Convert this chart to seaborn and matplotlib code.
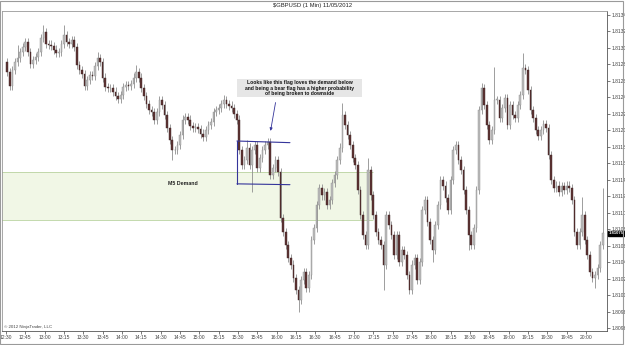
import matplotlib
matplotlib.use("Agg")
import numpy as np
import pandas as pd
import matplotlib.pyplot as plt
import seaborn as sns
from matplotlib.patches import Rectangle

# GBPUSD 1 min chart, 11/05/2012, read off the screenshot and grouped in 2 minute candles
# closes in pips above 1.8000, first candle ends at 12:31
first_open = 128.3
closes = [
    127.1, 125.4, 127.3, 128.3, 128.8, 129.5, 130.1, 130.7, 129.5, 128.1,
    128.5, 128.9, 129.5, 131.2, 131.9, 130.5, 130.4, 130.2, 129.8, 129.4,
    129.5, 130.5, 131.6, 130.7, 130.5, 131.0, 130.1, 127.9, 127.3, 126.8,
    125.4, 126.1, 126.7, 126.6, 127.8, 128.8, 128.3, 126.4, 125.3, 125.1,
    125.1, 124.7, 124.2, 123.8, 124.3, 125.3, 125.5, 125.4, 125.6, 126.4,
    127.1, 126.4, 125.1, 124.2, 123.2, 122.5, 122.2, 121.3, 122.2, 123.7,
    123.1, 121.9, 120.3, 118.8, 117.6, 117.6, 118.2, 119.4, 121.3, 121.6,
    121.3, 120.5, 120.3, 120.4, 120.2, 119.6, 119.2, 120.0, 120.6, 121.0,
    122.2, 122.5, 122.7, 123.2, 123.7, 123.2, 123.0, 122.7, 122.0, 121.3,
    117.6, 115.8, 116.4, 117.9, 115.8, 117.6, 118.2, 115.4, 116.6, 117.6,
    118.2, 118.6, 114.6, 115.4, 116.4, 114.9, 109.4, 107.7, 106.1, 104.5,
    103.7, 102.1, 100.6, 99.4, 101.8, 102.8, 100.9, 102.4, 106.7, 108.1,
    110.9, 113.0, 112.1, 112.5, 110.9, 111.5, 113.6, 114.6, 116.4, 117.9,
    121.9, 120.6, 119.4, 118.2, 116.6, 115.8, 112.8, 109.7, 107.3, 106.1,
    115.2, 112.1, 109.7, 107.7, 106.7, 106.1, 103.7, 109.7, 108.5, 107.3,
    104.9, 107.3, 104.0, 105.5, 104.9, 102.4, 100.6, 103.7, 104.5, 101.8,
    104.0, 110.3, 111.5, 108.9, 106.7, 105.5, 108.5, 110.9, 114.0, 113.3,
    111.8, 110.3, 114.0, 117.6, 118.2, 116.4, 115.2, 112.8, 110.3, 107.3,
    106.1, 108.1, 112.8, 122.5, 125.1, 123.1, 120.6, 118.8, 120.0, 123.7,
    123.7, 121.5, 122.7, 123.9, 120.6, 123.1, 121.9, 121.5, 123.1, 124.3,
    127.6, 127.3, 124.9, 122.5, 121.5, 120.0, 119.3, 120.0, 120.8, 120.3,
    117.0, 114.0, 113.0, 113.3, 112.5, 113.2, 112.8, 113.3, 113.0, 111.5,
    107.7, 106.1, 107.7, 109.7, 106.7, 104.9, 102.8, 102.1, 102.4, 103.3,
    106.1, 107.5,
]
# long wicks (candle index -> pips)
spike_highs = {4: 130.4, 14: 132.8, 22: 132.8, 35: 129.5, 50: 127.9, 84: 124.3,
               93: 118.8, 101: 119.0, 130: 123.3, 140: 116.6, 184: 125.7,
               189: 127.7, 200: 129.4, 223: 111.9, 231: 113.0}
spike_lows = {64: 116.4, 95: 112.5, 113: 97.9, 146: 100.6, 156: 100.4,
              165: 104.0, 179: 105.5, 228: 100.8}
wick_pips = 0.5

start_minute = 1
bar_minutes = 2

x_labels = ["12:30", "12:45", "13:00", "13:15", "13:30", "13:45", "14:00", "14:15",
            "14:30", "14:45", "15:00", "15:15", "15:30", "15:45", "16:00", "16:15",
            "16:30", "16:45", "17:00", "17:15", "17:30", "17:45", "18:00", "18:15",
            "18:30", "18:45", "19:00", "19:15", "19:30", "19:45", "20:00"]
y_ticks = [1.8096, 1.8098, 1.8100, 1.8102, 1.8104, 1.8106, 1.8108, 1.8110,
           1.8112, 1.8114, 1.8116, 1.8118, 1.8120, 1.8122, 1.8124, 1.8126,
           1.8128, 1.8130, 1.8132, 1.8134]

# demand zone and flag (pips / minutes)
zone_top, zone_bottom, zone_end = 114.9, 109.1, 284.7
flag_start, flag_end = 179.2, 220.3
flag_top = (118.7, 118.5)
flag_bottom = (113.5, 113.4)
note_lines = ["Looks like this flag loves the demand below",
              "and being a bear flag has a higher probability",
              "of being broken to downside"]

# build candles
df = pd.DataFrame({"close": closes})
df["open"] = [first_open] + closes[:-1]
df["t"] = start_minute + bar_minutes * df.index
df["high"] = df[["open", "close"]].max(axis=1) + wick_pips
df["low"] = df[["open", "close"]].min(axis=1) - wick_pips
for k, v in spike_highs.items():
    df.loc[k, "high"] = max(df.loc[k, "high"], v)
for k, v in spike_lows.items():
    df.loc[k, "low"] = min(df.loc[k, "low"], v)
for c in ["open", "close", "high", "low"]:
    df[c] = 1.8 + df[c] / 10000
df["up"] = df["close"] >= df["open"]

def px(p):
    return 1.8 + p / 10000

sns.set_theme(style="white")
plt.rcParams["font.family"] = ["Liberation Sans", "DejaVu Sans"]

fig = plt.figure(figsize=(6.25, 3.45), dpi=100)
fig.patch.set_facecolor("white")
ax = fig.add_axes([2 / 625, 14 / 345, 605 / 625, 320 / 345])

# demand zone
ax.add_patch(Rectangle((-10, px(zone_bottom)), zone_end + 10, px(zone_top) - px(zone_bottom),
                       facecolor="#f1f7e6", edgecolor="none", zorder=0))
ax.hlines([px(zone_top), px(zone_bottom)], -10, zone_end, color="#b9d3a0", lw=0.6, zorder=1)
ax.text(126, px(113.5), "M5 Demand", fontsize=3.8, fontweight="bold", ha="left",
        va="center", color="#222222")

# candles
ax.vlines(df["t"], df["low"], df["high"], color="#8e8e8e", lw=0.6, zorder=2)
body = (df["close"] - df["open"]).abs().clip(lower=0.000004)
ax.bar(df["t"], body, bottom=df[["open", "close"]].min(axis=1), width=1.3,
       color=np.where(df["up"], "#bcbcbc", "#5e3434"),
       edgecolor=np.where(df["up"], "#909090", "#3d2222"), linewidth=0.3, zorder=3)

# flag
flag_col = "#34349a"
ax.plot([flag_start, flag_end], [px(flag_top[0]), px(flag_top[1])], color=flag_col, lw=0.8, zorder=4)
ax.plot([flag_start, flag_end], [px(flag_bottom[0]), px(flag_bottom[1])], color=flag_col, lw=0.8, zorder=4)
ax.plot([flag_start, flag_start], [px(flag_bottom[0]), px(flag_top[0])], color=flag_col, lw=0.8, zorder=4)

# note
ax.add_patch(Rectangle((179.2, px(124.0)), 97, px(126.2) - px(124.0),
                       facecolor="#e6e6e6", edgecolor="none", zorder=4))
ax.text(227.7, px(125.1), "\n".join(note_lines), fontsize=3.6, fontweight="bold",
        ha="center", va="center", linespacing=1.15, color="#111111", zorder=5)
ax.annotate("", xy=(204.9, px(119.6)), xytext=(209.5, px(123.7)),
            arrowprops=dict(arrowstyle="-|>", color=flag_col, lw=0.6,
                            mutation_scale=4), zorder=5)

ax.set_xlim(-3.1, 466.3)
ax.set_ylim(1.809564, 1.813448)
ax.set_xticks(np.arange(len(x_labels)) * 15)
ax.set_xticklabels(x_labels)
ax.yaxis.tick_right()
ax.set_yticks(y_ticks)
ax.set_yticklabels([f"{v:.4f}" for v in y_ticks])
ax.tick_params(axis="both", labelsize=3.6, length=2, width=0.5, pad=1,
               colors="#444444", direction="out")
ax.tick_params(axis="x", bottom=True)
ax.tick_params(axis="y", right=True)
for s in ax.spines.values():
    s.set_color("#999999")
    s.set_linewidth(0.6)
ax.spines["right"].set_color("#555555")
ax.spines["bottom"].set_color("#555555")

# last price marker
last = df["close"].iloc[-1]
ax.text(1.002, last, f"{last:.5f}", transform=ax.get_yaxis_transform(), fontsize=3.0,
        color="white", ha="left", va="center", fontweight="bold",
        bbox=dict(boxstyle="square,pad=0.12", facecolor="black", edgecolor="black"), zorder=6)

fig.text(0.5, 1 - 5 / 345, "$GBPUSD (1 Min) 11/05/2012", ha="center", va="center",
         fontsize=4.2, color="#222222")
fig.text(4 / 625, 1 - 327 / 345, "\u00a9 2012 NinjaTrader, LLC", ha="left", va="center",
         fontsize=3.2, color="#444444")
fig.add_artist(Rectangle((0, 0.003), 623 / 625, 0.995, transform=fig.transFigure,
                         fill=False, edgecolor="#9a9a9a", lw=0.8))

fig.savefig("out.png", dpi=100)
